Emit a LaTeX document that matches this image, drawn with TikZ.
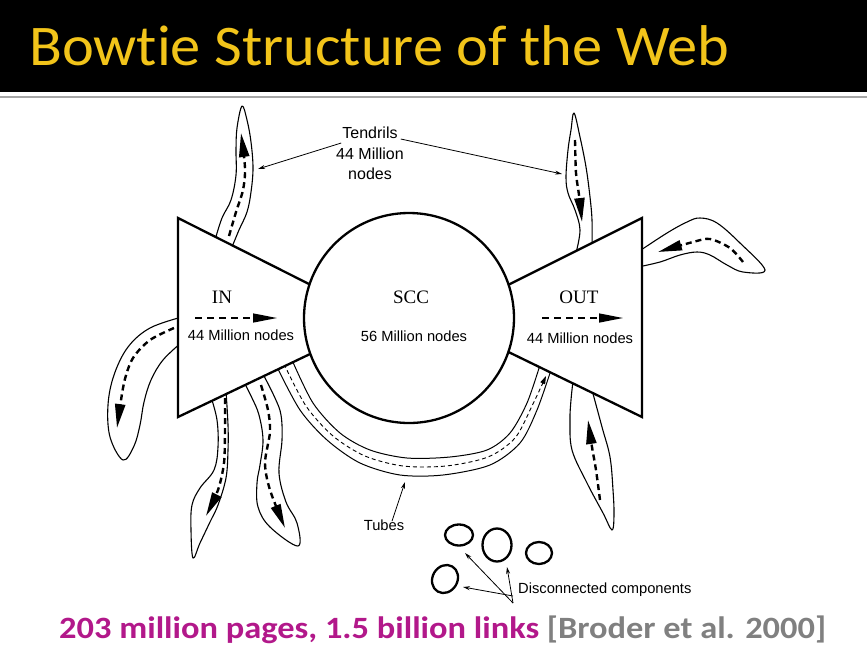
\documentclass[tikz,border=0pt]{standalone}
\usepackage{fontspec}
\setmainfont{Liberation Sans}
\newfontfamily\carlito[Ligatures=NoCommon]{Carlito}
\newfontfamily\serifsc{Liberation Serif}
\usetikzlibrary{arrows.meta}
\definecolor{titleyellow}{RGB}{242,196,26}
\definecolor{magtxt}{RGB}{178,24,138}
\definecolor{graytxt}{RGB}{128,128,128}
\begin{document}
\begin{tikzpicture}[x=1pt,y=-1pt,
  bowshape/.style={line width=2.3pt, fill=white, line join=miter},
  tendrilline/.style={line width=1.1pt, line join=round},
  flowarrow/.style={line width=2.4pt, dash pattern=on 6pt off 4pt, -{Triangle[length=24pt,width=10pt]}},
  mainarrow/.style={line width=1.3pt, dash pattern=on 7pt off 5pt, -{Triangle[length=24pt,width=9pt]}},
  tubeline/.style={line width=1.0pt},
  tubeflow/.style={line width=0.9pt, dash pattern=on 4pt off 3pt, -{Triangle[length=8pt,width=5pt]}},
  ptrarrow/.style={line width=0.8pt, -{Stealth[length=7pt,width=4pt]}},
  compring/.style={line width=2.3pt},
  lbl/.style={font=\fontsize{14.7}{17}\selectfont, inner sep=0pt, anchor=base},
  tendlbl/.style={font=\fontsize{16}{18}\selectfont, inner sep=0pt, anchor=base},
  bowlbl/.style={font=\serifsc\fontsize{19}{21}\selectfont, inner sep=0pt, anchor=base}
]
\useasboundingbox (0,0) rectangle (867,654);
% title bar
\fill[black] (0,0) rectangle (867,92);
\fill[black!35] (0,95.5) rectangle (867,98);
\node[anchor=base west, inner sep=0pt, text=titleyellow, font=\carlito\fontsize{57.5}{60}\selectfont] (title) at (29,65) {\scalebox{1.05}[1]{Bowt\kern0pt ie Structure of the Web}};

% ---- tendrils (drawn first, shapes cover their bases) ----
% top-left
\draw[tendrilline] plot[smooth, tension=0.6] coordinates {(215,240) (222,218) (231,200) (236,175) (236,150) (237,128) (242,106) (247,120) (251,142) (253,168) (251,192) (247,212) (239,230) (232,247)};
\draw[flowarrow] plot[smooth] coordinates {(229,236) (236,212) (243,190) (245,168) (241,133)};
% left
\draw[tendrilline] plot[smooth, tension=0.6] coordinates {(182,317) (150,328) (128,347) (114,375) (108,405) (110,437) (123,460) (134,446) (140,425) (144,402) (151,380) (163,360) (182,342)};
\draw[flowarrow] plot[smooth] coordinates {(174,328) (150,340) (133,358) (124,383) (117,428)};
% bottom A
\draw[tendrilline] plot[smooth, tension=0.6] coordinates {(211,397) (217,420) (218,447) (214,470) (200,488) (192,505) (191,530) (193,558) (200,543) (210,522) (218,505) (226,478) (228,450) (228,425) (226,391)};
\draw[flowarrow] plot[smooth] coordinates {(225,398) (225,430) (224,463) (218,490) (206,516)};
% bottom B
\draw[tendrilline] plot[smooth, tension=0.6] coordinates {(244,382) (252,398) (259,415) (263,440) (260,465) (257,483) (258,507) (270,527) (298,546) (297,523) (286,502) (279,473) (282,440) (281,415) (275,398) (263,374)};
\draw[flowarrow] plot[smooth] coordinates {(261,385) (268,410) (270,432) (265,463) (270,490) (285,528)};
% tube
\draw[tubeline] plot[smooth] coordinates {(277,367) (300,410) (327,440) (360,463) (400,475) (443,475) (490,465) (520,443) (537,410) (551,370)};
\draw[tubeline] plot[smooth] coordinates {(292,360) (313,403) (340,433) (370,450) (407,458) (450,457) (487,450) (510,433) (527,403) (540,365)};
\draw[tubeflow] plot[smooth] coordinates {(284,364) (306,406) (333,436) (365,456) (403,466) (446,466) (488,457) (515,438) (532,406) (546,376)};
% bottom right
\draw[tendrilline] plot[smooth, tension=0.6] coordinates {(573,381) (571,400) (570,420) (572,450) (587,483) (603,513) (612,530) (614,515) (613,490) (610,457) (602,427) (592,390)};
\draw[flowarrow] plot[smooth] coordinates {(600,500) (596,470) (592,447) (588,420)};
% top right
\draw[tendrilline] plot[smooth, tension=0.6] coordinates {(576,253) (580,230) (575,210) (568,193) (566,177) (568,150) (571,130) (574,113) (580,137) (586,167) (590,197) (592,220) (592,245)};
\draw[flowarrow] plot[smooth] coordinates {(575,140) (576,173) (579,195) (582,222)};
% right boomerang
\draw[tendrilline] plot[smooth, tension=0.6] coordinates {(638,252) (667,233) (687,222) (700,218) (717,223) (740,243) (765,270) (743,272) (727,265) (710,255) (697,252) (680,255) (660,262) (638,267)};
\draw[flowarrow] plot[smooth] coordinates {(743,262) (730,248) (710,239) (693,242) (658,252)};

% ---- bowtie ----
\draw[bowshape] (178,218) -- (330,294.6) -- (330,344.5) -- (178,417) -- cycle;
\draw[bowshape] (642,218) -- (490,294) -- (490,343) -- (642,417) -- cycle;
\node[circle, draw, line width=2.3pt, fill=white, minimum size=210pt, inner sep=0pt] (scc) at (409,318) {};

\node[bowlbl] (inlbl) at (222,303) {IN};
\node[bowlbl] (scclbl) at (411,303) {SCC};
\node[bowlbl] (outlbl) at (579,303) {OUT};
\draw[mainarrow] (195,318) -- (277,318);
\draw[mainarrow] (542,318) -- (623,318);
\node[lbl] (innodes) at (241,340) {44 Million nodes};
\node[lbl] (sccnodes) at (414,341) {56 Million nodes};
\node[lbl] (outnodes) at (580,343) {44 Million nodes};

% ---- tendril label ----
\node[tendlbl] (tendw) at (370,138) {Tendrils};
\node[tendlbl] (tendm) at (370,159) {44 Million};
\node[tendlbl] (tendn) at (370,179) {nodes};
\coordinate (tlTarget) at (258,169);
\coordinate (trTarget) at (562,174);
\draw[ptrarrow] ([xshift=-1pt,yshift=-5pt]tendw.base west) -- (tlTarget);
\draw[ptrarrow] ([xshift=3pt,yshift=-1pt]tendw.base east) -- (trTarget);

% ---- tubes label ----
\node[lbl] (tubes) at (384,530) {Tubes};
\coordinate (tubeTarget) at (405,482);
\draw[ptrarrow] ([xshift=8pt,yshift=-2pt]tubes.north) -- (tubeTarget);

% ---- disconnected components ----
\draw[compring] (459,535) ellipse [x radius=14pt, y radius=10.5pt];
\draw[compring] (497,545) ellipse [x radius=14.5pt, y radius=16.5pt];
\draw[compring] (539,553) ellipse [x radius=13pt, y radius=11pt];
\draw[compring, rotate around={-30:(445,579)}] (445,579) ellipse [x radius=12.5pt, y radius=14.5pt];
\node[lbl, anchor=base west] (disc) at (518,593) {Disconnected components};
\coordinate (dc1) at (465,553);
\coordinate (dc2) at (507,567);
\coordinate (dc4) at (463,587);
\draw[ptrarrow] ([xshift=-5pt,yshift=-10pt]disc.base west) -- (dc1);
\draw[ptrarrow] ([xshift=-5pt,yshift=-10pt]disc.base west) -- (dc2);
\draw[ptrarrow] ([xshift=-5pt,yshift=-3pt]disc.base west) -- (dc4);

% ---- bottom caption ----
\node[anchor=base west, inner sep=0pt, font=\carlito\bfseries\fontsize{31}{34}\selectfont] (caption) at (59,638) {\scalebox{1.11}[1]{\textcolor{magtxt}{203 million pages, 1.5 billion links} \textcolor{graytxt}{[Broder et al. 2000]}}};
\end{tikzpicture}
\end{document}
